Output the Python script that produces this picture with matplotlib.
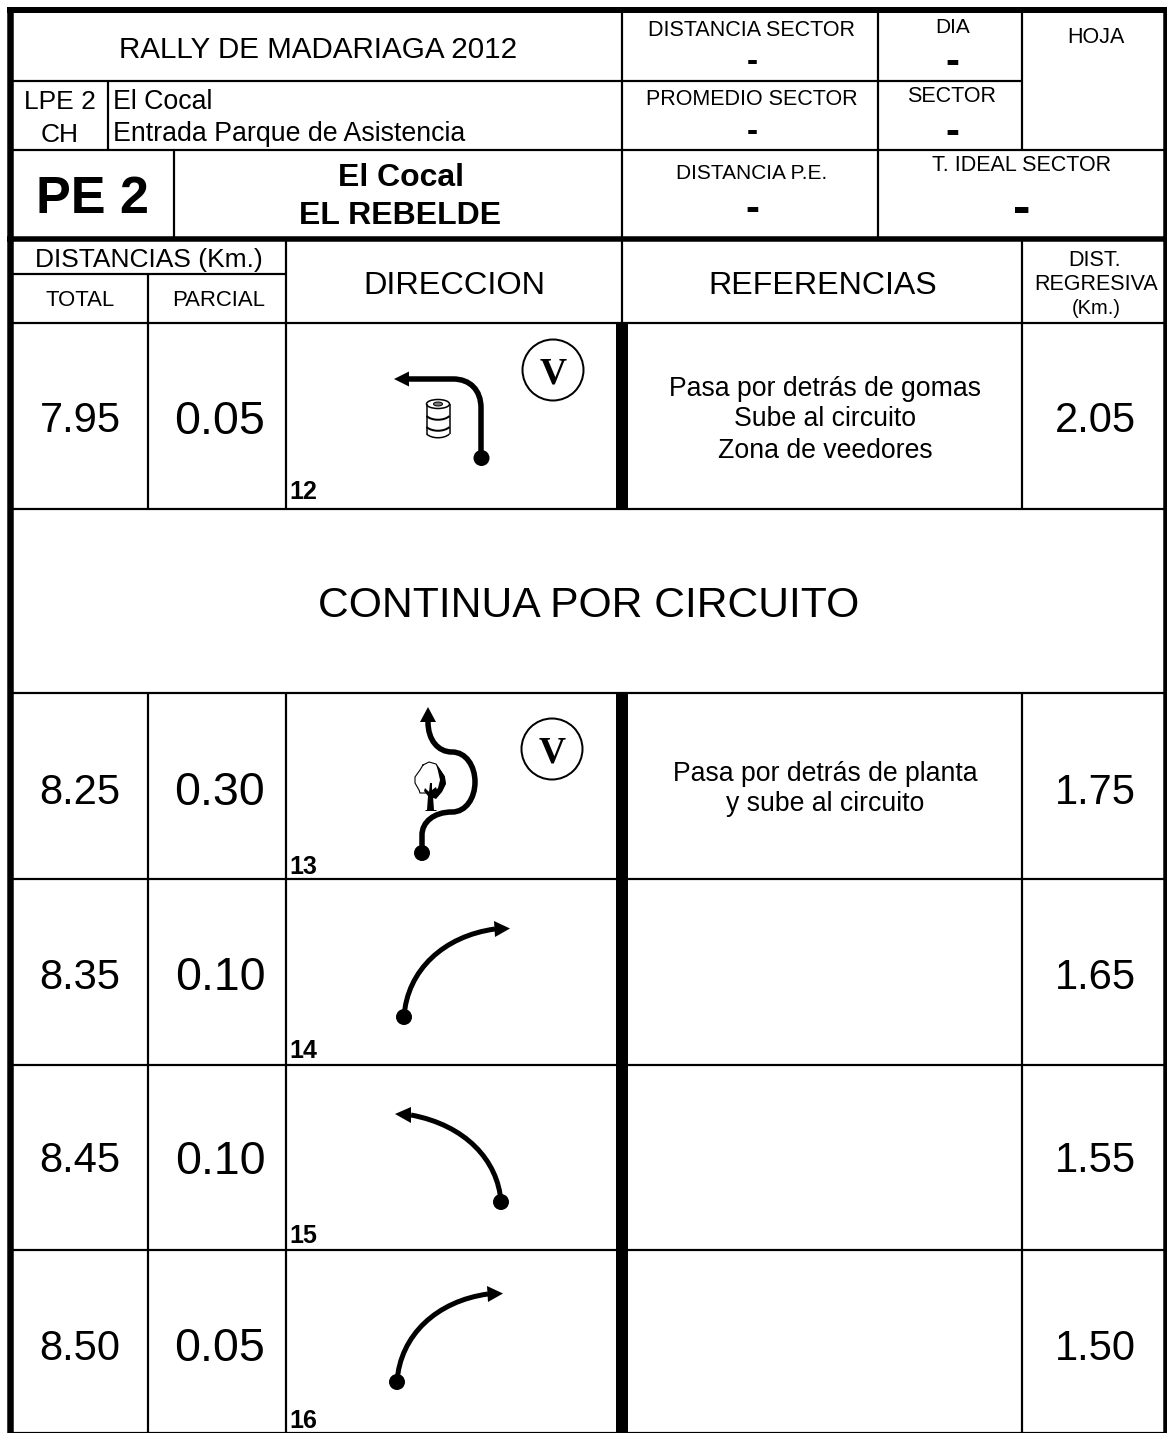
import matplotlib
matplotlib.use('Agg')
import matplotlib.pyplot as plt
from matplotlib.path import Path
from matplotlib.patches import PathPatch, Circle, Polygon, Ellipse

plt.rcParams['font.family'] = ['Liberation Sans', 'DejaVu Sans']

# Data read from the sheet
event_title = 'RALLY DE MADARIAGA 2012'
stage_codes = ['LPE 2', 'CH']
stage_names = ['El Cocal', 'Entrada Parque de Asistencia']
stage_label = 'PE 2'
stage_titles = ['El Cocal', 'EL REBELDE']
banner = 'CONTINUA POR CIRCUITO'

point_nums = ['12', '13', '14', '15', '16']
totals = ['7.95', '8.25', '8.35', '8.45', '8.50']
partials = ['0.05', '0.30', '0.10', '0.10', '0.05']
regressive = ['2.05', '1.75', '1.65', '1.55', '1.50']
references = [
    ['Pasa por detrás de gomas', 'Sube al circuito', 'Zona de veedores'],
    ['Pasa por detrás de planta', 'y sube al circuito'],
    [], [], [],
]

# Layout, in pixels of the sheet
W, H = 1167, 1433
row_tops = [323, 693, 879, 1065, 1250]
row_bottoms = [508.5, 879, 1065, 1250, 1433]
row_centers = [416.5, 788, 973, 1157, 1344]
num_y = [489.5, 864, 1048, 1233.5, 1419]
ref_y = [[385.5, 416, 447.5], [771, 801], [], [], []]
ref_x = [825, 825, 825, 825, 825]

fig = plt.figure(figsize=(W / 100, H / 100), dpi=100)
ax = fig.add_axes([0, 0, 1, 1])
ax.set_xlim(0, W)
ax.set_ylim(H, 0)
ax.axis('off')


def px(v):
    return v * 0.72


def hline(y, x0, x1, w=2.2):
    ax.plot([x0, x1], [y, y], color='black', lw=px(w), solid_capstyle='butt')


def vline(x, y0, y1, w=2.2):
    ax.plot([x, x], [y0, y1], color='black', lw=px(w), solid_capstyle='butt')


def label(x, y, s, size, weight='normal', ha='center', family=None):
    kw = {}
    if family:
        kw['family'] = family
    ax.text(x, y, s, fontsize=size, fontweight=weight, ha=ha, va='center_baseline', color='black', **kw)


def curve(verts, codes, w=5):
    ax.add_patch(PathPatch(Path(verts, codes), fc='none', ec='black', lw=px(w), capstyle='butt'))


def dot(x, y, r=8):
    ax.add_patch(Circle((x, y), r, fc='black', ec='none', zorder=3))


def head(points):
    ax.add_patch(Polygon(points, closed=True, fc='black', ec='none', zorder=3))


def v_mark(x, y):
    ax.add_patch(Circle((x, y), 30.5, fc='none', ec='black', lw=px(2)))
    label(x, y, 'V', 27, 'bold', family='Liberation Serif')


def barrel(x, y):
    ax.add_patch(Ellipse((x, y - 16), 23, 9, fc='none', ec='black', lw=1.1))
    ax.add_patch(Ellipse((x, y - 16), 9, 4, fc='#777777', ec='black', lw=0.7))
    vline(x - 11.5, y - 16, y + 14, 1.5)
    vline(x + 11.5, y - 16, y + 14, 1.5)
    for dy, w in [(-4, 2), (7, 2), (14, 1.5)]:
        curve([(x - 11.5, y + dy), (x - 6, y + dy + 5), (x + 6, y + dy + 5), (x + 11.5, y + dy)],
              [Path.MOVETO, Path.CURVE4, Path.CURVE4, Path.CURVE4], w)


def tree(x, y):
    crown = [(-6, -15), (0, -18), (7, -16), (11, -10), (15, -4), (16, 3), (13, 10), (7, 15),
             (-1, 12), (-3, 13), (-9, 13), (-10, 10), (-14, 3), (-14, -3), (-9, -10), (-6, -15)]
    ax.plot([x + p[0] for p in crown], [y + p[1] for p in crown], color='black', lw=0.8)
    shadow = [(7, -16), (12, -9), (16, -3), (17, 4), (13, 12), (7, 19), (2, 17), (5, 12),
              (9, 8), (11, 0), (9, -9)]
    ax.add_patch(Polygon([(x + p[0], y + p[1]) for p in shadow], closed=True, fc='black', ec='none'))
    trunk = [(1, 3), (3, 3), (3, 10), (7, 7), (8, 10), (4, 16), (5, 30), (-2, 30), (-1, 16), (-5, 11), (-4, 8), (0, 12)]
    ax.add_patch(Polygon([(x + p[0], y + p[1]) for p in trunk], closed=True, fc='black', ec='none'))
    hline(y + 30, x - 4, x + 7, 1)


# Outer frame and header rules
hline(10, 7, W, 6)
vline(10, 7, H, 6.5)
vline(1165, 7, H, 4.5)
hline(238.5, 7, W, 5.5)
hline(81, 10, 1022)
hline(150, 10, 1164)
hline(274, 10, 286)
vline(622, 10, 323)
vline(878, 10, 238)
vline(1022, 10, 150)
vline(1022, 238, 323)
vline(108, 81, 150)
vline(174, 150, 238)
vline(286, 238, 323)
vline(148, 274, 323)

# Header text
label(318.5, 46.5, event_title, 21.3)
label(60, 99.5, stage_codes[0], 19)
label(60, 132, stage_codes[1], 19)
label(113, 99, stage_names[0], 19.3, ha='left')
label(113, 130.5, stage_names[1], 19.3, ha='left')
label(93, 193.5, stage_label, 37.5, 'bold')
label(401, 174.5, stage_titles[0], 23, 'bold')
label(400, 212, stage_titles[1], 23, 'bold')

label(752, 27.5, 'DISTANCIA SECTOR', 15.5)
label(752, 59, '-', 24, 'bold')
label(953, 25, 'DIA', 15)
label(952, 58.5, '-', 30, 'bold')
label(752, 97, 'PROMEDIO SECTOR', 15.5)
label(752, 128.5, '-', 24, 'bold')
label(952, 93.5, 'SECTOR', 15.5)
label(952, 128, '-', 30, 'bold')
label(752, 171.5, 'DISTANCIA P.E.', 15)
label(752, 205, '-', 30, 'bold')
label(1022, 163, 'T. IDEAL SECTOR', 15.5)
label(1022, 204.5, '-', 38, 'bold')
label(1096, 35, 'HOJA', 15.5)

label(149, 257.5, 'DISTANCIAS (Km.)', 19)
label(80, 297.5, 'TOTAL', 15.9)
label(219, 297.5, 'PARCIAL', 15.9)
label(454, 282.5, 'DIRECCION', 23.4)
label(823, 282.5, 'REFERENCIAS', 23.1)
label(1095, 257.5, 'DIST.', 15.5)
label(1096, 281.5, 'REGRESIVA', 15.5)
label(1096, 306, '(Km.)', 14.5)

# Rows
hline(323, 10, 1164)
hline(693, 10, 1164)
for i in range(len(totals)):
    top, bottom = row_tops[i], row_bottoms[i]
    hline(bottom, 10, 1164)
    vline(148, top, bottom)
    vline(286, top, bottom)
    vline(1022, top, bottom)
    vline(622, top, bottom, 12)
    label(80, row_centers[i], totals[i], 30)
    label(220, row_centers[i], partials[i], 33.5)
    label(1095.5, row_centers[i], regressive[i], 30)
    label(289, num_y[i], point_nums[i], 18, 'bold', ha='left')
    for y, s in zip(ref_y[i], references[i]):
        label(ref_x[i], y, s, 19.2)

label(589, 601.5, banner, 30.7)

# Route icons
M, L, C = Path.MOVETO, Path.LINETO, Path.CURVE4

# 12: square left behind the drum
curve([(481, 458), (481, 408), (481, 390), (470, 379), (453, 379), (409, 379)],
      [M, L, C, C, C, L], 5.5)
head([(394, 379), (409, 371.5), (409, 386.5)])
dot(481.5, 458)
barrel(438, 420)
v_mark(553, 370)

# 13: around the tree
curve([(422, 853), (422, 835), (422, 822), (434, 812), (452, 812),
       (466, 812), (475, 798), (475, 782), (475, 766), (466, 752), (452, 752),
       (438, 752), (428, 740), (428, 722)],
      [M, L, C, C, C, C, C, C, C, C, C, C, C, C], 5.5)
head([(428, 707), (420, 722), (436, 722)])
dot(422, 853)
tree(429, 780)
v_mark(552, 749)

# 14 and 16: same fast right
for dx, dy in [(7, -365), (0, 0)]:
    curve([(397 + dx, 1382 + dy), (400 + dx, 1335 + dy), (437 + dx, 1301 + dy), (488 + dx, 1294 + dy)],
          [M, C, C, C], 5)
    head([(503 + dx, 1293.5 + dy), (487 + dx, 1286 + dy), (488 + dx, 1302 + dy)])
    dot(397 + dx, 1382 + dy)

# 15: fast left
curve([(501, 1202), (498, 1160), (465, 1125), (411, 1115)], [M, C, C, C], 5)
head([(395, 1114), (411, 1107), (411, 1123)])
dot(501, 1202)

fig.savefig('out.png', dpi=100)
